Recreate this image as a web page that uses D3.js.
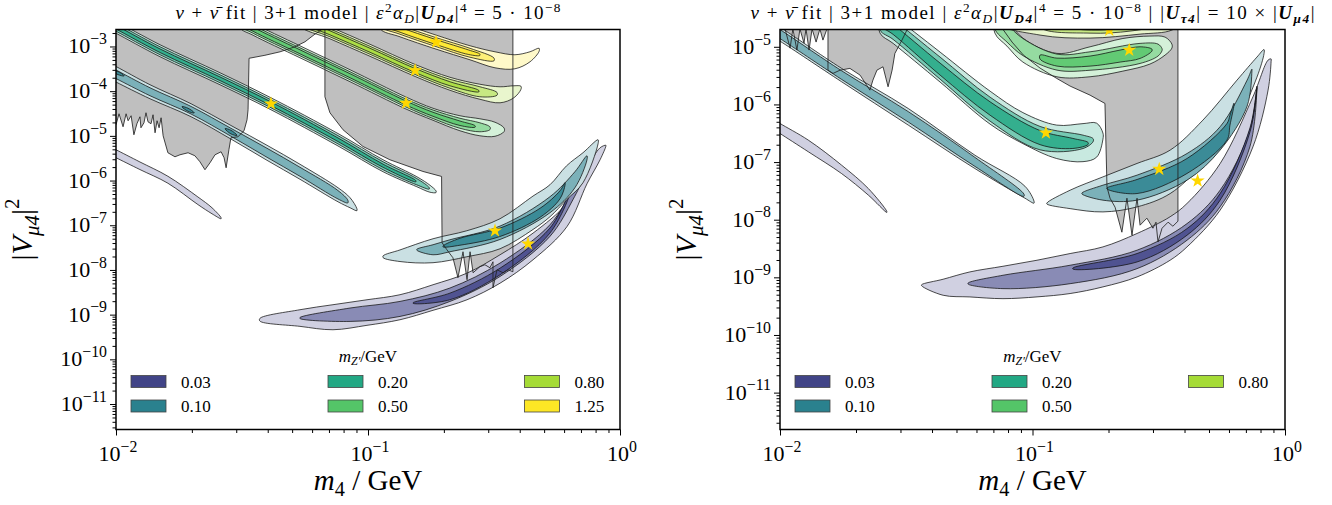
<!DOCTYPE html>
<html>
<head>
<meta charset="utf-8">
<script src="https://cdn.jsdelivr.net/npm/d3@7"></script>
<style>
  body { margin: 0; background: #fff; }
  svg { display: block; }
  text { font-family: "Liberation Serif", "DejaVu Serif", serif; fill: #000; }
</style>
</head>
<body>
<svg id="chart" width="1332" height="505"></svg>
<script>
// ---------------------------------------------------------------------------
// Data. Contour bands are stored as ridge lines: [log10 m4, log10 |V|^2, half-width in decades].
// Excluded regions are outlines in [log10 m4, log10 |V|^2].
// ---------------------------------------------------------------------------
const massLabels = ["0.03", "0.10", "0.20", "0.50", "0.80", "1.25"];
const massColors = ["#414487", "#2a818e", "#22a884", "#54c568", "#a5db36", "#fde725"];
const levelStrength = [0.25, 0.62, 0.92];           // outer, middle, inner contour fill
const xTickExp = [-2, -1, 0];
const yTickExpLeft = [-11, -10, -9, -8, -7, -6, -5, -4, -3];
const yTickExpRight = [-11, -10, -9, -8, -7, -6, -5];

// ---- left panel ----
const L003a = [[-2.024,-5.333,0.089],[-2.000,-5.400,0.089],[-1.905,-5.669,0.085],[-1.794,-5.982,0.078],[-1.675,-6.452,0.085],[-1.619,-6.676,0.067],[-1.583,-6.843,0.011]];
const L003out = [[-1.429,-9.114,0.03],[-1.270,-9.076,0.186],[-1.139,-9.058,0.280],[-1.004,-8.953,0.286],[-0.873,-8.834,0.280],[-0.742,-8.617,0.286],[-0.607,-8.369,0.298],[-0.476,-7.978,0.318],[-0.345,-7.474,0.298],[-0.210,-6.765,0.262],[-0.131,-5.893,0.179],[-0.079,-5.400,0.134],[-0.056,-5.221,0.011]];
const L003mid = [[-1.270,-9.076,0.01],[-1.071,-9.002,0.150],[-0.873,-8.872,0.168],[-0.675,-8.555,0.150],[-0.476,-7.996,0.150],[-0.278,-7.119,0.130],[-0.187,-6.318,0.112],[-0.147,-5.937,0.02]];
const L003in = [[-0.821,-8.740,0.007],[-0.675,-8.593,0.074],[-0.476,-8.034,0.074],[-0.278,-7.119,0.056],[-0.200,-6.300,0.015]];

const L010aOut = [[-2.044,-3.499,0.174],[-2.000,-3.622,0.174],[-1.865,-4.013,0.157],[-1.702,-4.427,0.145],[-1.544,-4.919,0.152],[-1.401,-5.378,0.168],[-1.270,-5.803,0.168],[-1.119,-6.318,0.157],[-1.071,-6.497,0.112],[-1.044,-6.653,0.022]];
const L010aMid = [[-2.044,-3.499,0.096],[-2.000,-3.622,0.096],[-1.865,-4.013,0.089],[-1.702,-4.427,0.085],[-1.544,-4.919,0.089],[-1.401,-5.378,0.101],[-1.270,-5.803,0.101],[-1.119,-6.318,0.094],[-1.080,-6.470,0.030]];
const L010aIn1 = [[-2.016,-3.544,0.005],[-1.992,-3.595,0.034],[-1.968,-3.655,0.005]];
const L010aIn2 = [[-1.738,-4.349,0.005],[-1.714,-4.416,0.034],[-1.690,-4.483,0.005]];
const L010aIn3 = [[-1.567,-4.841,0.005],[-1.544,-4.915,0.040],[-1.520,-4.987,0.005]];
const L010out = [[-0.940,-7.705,0.02],[-0.873,-7.682,0.130],[-0.742,-7.570,0.268],[-0.608,-7.414,0.291],[-0.476,-7.190,0.336],[-0.345,-6.720,0.374],[-0.278,-6.452,0.358],[-0.212,-6.049,0.380],[-0.147,-5.714,0.336],[-0.087,-5.132,0.045]];
const L010mid = [[-0.806,-7.548,0.011],[-0.742,-7.548,0.112],[-0.675,-7.459,0.134],[-0.476,-7.168,0.150],[-0.278,-6.541,0.179],[-0.179,-5.982,0.179],[-0.131,-5.490,0.045]];
const L010in = [[-0.702,-7.474,0.011],[-0.635,-7.369,0.078],[-0.476,-7.157,0.094],[-0.317,-6.720,0.101],[-0.238,-6.318,0.089],[-0.218,-6.072,0.025]];

const L020out = [[-2.044,-2.447,0.134],[-2.000,-2.570,0.134],[-1.825,-3.096,0.134],[-1.587,-3.723,0.134],[-1.385,-4.282,0.134],[-1.119,-5.087,0.139],[-0.940,-5.669,0.134],[-0.806,-6.027,0.112],[-0.754,-6.183,0.078],[-0.730,-6.250,0.018]];
const L020mid = [[-2.044,-2.447,0.089],[-2.000,-2.570,0.089],[-1.825,-3.096,0.089],[-1.587,-3.723,0.089],[-1.385,-4.282,0.089],[-1.119,-5.087,0.092],[-0.940,-5.669,0.089],[-0.806,-6.027,0.07],[-0.757,-6.175,0.015]];
const L020in = [[-2.044,-2.447,0.040],[-2.000,-2.570,0.040],[-1.825,-3.096,0.040],[-1.587,-3.723,0.040],[-1.385,-4.282,0.042],[-1.119,-5.087,0.040],[-0.940,-5.669,0.035],[-0.810,-6.015,0.012]];

const L050out = [[-1.508,-2.447,0.134],[-1.456,-2.615,0.134],[-1.270,-3.119,0.134],[-1.071,-3.655,0.134],[-0.849,-4.266,0.134],[-0.742,-4.517,0.134],[-0.635,-4.718,0.168],[-0.556,-4.808,0.190],[-0.496,-4.852,0.157],[-0.460,-4.864,0.040]];
const L050mid = [[-1.508,-2.447,0.089],[-1.456,-2.615,0.089],[-1.270,-3.119,0.089],[-1.071,-3.655,0.089],[-0.849,-4.266,0.089],[-0.742,-4.517,0.095],[-0.635,-4.718,0.112],[-0.556,-4.808,0.100],[-0.516,-4.830,0.03]];
const L050in = [[-1.508,-2.447,0.045],[-1.456,-2.615,0.045],[-1.270,-3.119,0.045],[-1.071,-3.655,0.045],[-0.849,-4.266,0.045],[-0.742,-4.517,0.045],[-0.635,-4.718,0.05],[-0.575,-4.790,0.015]];

const L080out = [[-1.270,-2.403,0.134],[-1.151,-2.694,0.134],[-0.992,-3.085,0.134],[-0.813,-3.537,0.134],[-0.675,-3.834,0.145],[-0.556,-4.013,0.168],[-0.476,-4.081,0.179],[-0.421,-4.013,0.134],[-0.393,-3.924,0.034]];
const L080mid = [[-1.270,-2.403,0.089],[-1.151,-2.694,0.089],[-0.992,-3.085,0.089],[-0.813,-3.537,0.089],[-0.675,-3.834,0.100],[-0.556,-4.013,0.112],[-0.488,-4.060,0.03]];
const L080in = [[-1.270,-2.403,0.045],[-1.151,-2.694,0.045],[-0.992,-3.085,0.045],[-0.813,-3.537,0.045],[-0.675,-3.834,0.045],[-0.560,-4.000,0.015]];

const L125out = [[-0.952,-2.447,0.157],[-0.873,-2.626,0.157],[-0.730,-2.902,0.157],[-0.595,-3.141,0.157],[-0.496,-3.298,0.179],[-0.417,-3.342,0.157],[-0.357,-3.230,0.112],[-0.321,-3.074,0.034]];
const L125mid = [[-0.952,-2.447,0.100],[-0.873,-2.626,0.100],[-0.730,-2.902,0.100],[-0.595,-3.141,0.100],[-0.500,-3.290,0.03]];
const L125in = [[-0.952,-2.447,0.055],[-0.873,-2.626,0.055],[-0.730,-2.902,0.055],[-0.600,-3.130,0.05],[-0.556,-3.186,0.015]];

// best-fit points: [log10 m4, log10 |V|^2, mass index]
const leftBest = [[-0.365,-7.414,0],[-0.496,-7.123,1],[-1.385,-4.282,2],[-0.849,-4.266,3],[-0.813,-3.537,4],[-0.730,-2.902,5]];

const leftExclA = [[-2.05,-2.5],[-1.175,-2.5],[-1.183,-2.62],[-1.214,-2.738],[-1.250,-2.895],[-1.290,-3.007],[-1.349,-3.119],[-1.409,-3.197],[-1.472,-3.264],[-1.476,-4.416],[-1.480,-4.640],[-1.492,-4.886],[-1.516,-5.020],[-1.544,-5.043],[-1.552,-5.311],[-1.563,-5.714],[-1.571,-5.490],[-1.583,-5.356],[-1.607,-5.423],[-1.627,-5.602],[-1.647,-5.758],[-1.667,-5.579],[-1.687,-5.445],[-1.714,-5.378],[-1.746,-5.423],[-1.766,-5.468],[-1.794,-5.378],[-1.813,-4.998],[-1.821,-4.595],[-1.829,-4.819],[-1.837,-4.662],[-1.845,-4.931],[-1.853,-4.528],[-1.861,-4.729],[-1.873,-4.685],[-1.881,-4.483],[-1.889,-4.707],[-1.901,-4.819],[-1.905,-4.573],[-1.917,-4.729],[-1.929,-4.975],[-1.940,-4.550],[-1.952,-4.662],[-1.960,-4.506],[-1.972,-4.796],[-1.988,-4.506],[-2.000,-4.752],[-2.05,-4.75]];
const leftExclB = [[-1.171,-2.5],[-0.425,-2.5],[-0.425,-8.040],[-0.444,-7.996],[-0.464,-8.063],[-0.488,-7.996],[-0.504,-8.398],[-0.504,-7.817],[-0.516,-7.951],[-0.536,-7.884],[-0.556,-7.928],[-0.583,-8.063],[-0.595,-7.593],[-0.607,-8.219],[-0.623,-7.593],[-0.643,-8.174],[-0.663,-7.727],[-0.687,-7.548],[-0.706,-7.391],[-0.708,-5.908],[-0.782,-5.796],[-0.913,-5.535],[-1.020,-5.237],[-1.099,-4.864],[-1.151,-4.483],[-1.171,-4.125]];

// ---- right panel ----
const R003a = [[-2.020,-6.359,0.087],[-2.000,-6.417,0.087],[-1.888,-6.720,0.101],[-1.756,-7.127,0.073],[-1.650,-7.517,0.057],[-1.577,-7.865,0.009]];
const R003out = [[-1.439,-9.137,0.009],[-1.354,-9.172,0.139],[-1.248,-9.123,0.217],[-1.117,-9.089,0.281],[-0.982,-9.021,0.318],[-0.851,-8.934,0.347],[-0.721,-8.819,0.347],[-0.586,-8.616,0.377],[-0.455,-8.326,0.377],[-0.388,-8.095,0.377],[-0.257,-7.431,0.404],[-0.127,-6.302,0.434],[-0.067,-5.491,0.260],[-0.055,-5.231,0.02]];
const R003mid = [[-1.255,-9.108,0.009],[-1.117,-9.080,0.116],[-0.851,-8.950,0.160],[-0.586,-8.689,0.160],[-0.388,-8.212,0.144],[-0.257,-7.632,0.144],[-0.139,-6.590,0.144],[-0.111,-5.700,0.017]];
const R003in = [[-0.840,-8.847,0.009],[-0.586,-8.660,0.073],[-0.388,-8.212,0.057],[-0.257,-7.604,0.057],[-0.139,-6.446,0.035],[-0.111,-5.717,0.009]];

const R010aOut = [[-2.040,-4.675,0.122],[-2.000,-4.780,0.122],[-1.756,-5.491,0.116],[-1.492,-6.215,0.144],[-1.228,-6.997,0.116],[-1.030,-7.523,0.104],[-0.994,-7.696,0.017]];
const R010aMid = [[-2.040,-4.675,0.078],[-2.000,-4.780,0.078],[-1.756,-5.491,0.075],[-1.492,-6.215,0.090],[-1.228,-6.997,0.078],[-1.034,-7.575,0.02]];
const R010out = [[-0.943,-7.719,0.009],[-0.851,-7.648,0.160],[-0.721,-7.561,0.304],[-0.586,-7.401,0.377],[-0.455,-7.170,0.377],[-0.325,-6.649,0.377],[-0.190,-5.925,0.347],[-0.111,-5.352,0.174],[-0.083,-5.083,0.035]];
const R010mid = [[-0.804,-7.545,0.009],[-0.721,-7.531,0.130],[-0.586,-7.444,0.217],[-0.388,-7.083,0.231],[-0.257,-6.590,0.203],[-0.150,-5.804,0.226],[-0.131,-5.405,0.017]];
const R010in = [[-0.705,-7.458,0.009],[-0.586,-7.424,0.122],[-0.388,-7.068,0.130],[-0.230,-6.476,0.144],[-0.218,-6.273,0.087],[-0.202,-5.995,0.017]];

const R020out = [[-1.604,-4.519,0.243],[-1.552,-4.698,0.243],[-1.366,-5.352,0.260],[-1.168,-6.056,0.286],[-1.038,-6.411,0.269],[-0.904,-6.649,0.290],[-0.800,-6.663,0.330],[-0.746,-6.620,0.295],[-0.721,-6.550,0.052]];
const R020mid = [[-1.604,-4.536,0.174],[-1.552,-4.698,0.174],[-1.366,-5.370,0.191],[-1.168,-6.082,0.208],[-0.970,-6.585,0.203],[-0.800,-6.649,0.116],[-0.760,-6.620,0.026]];
const R020in = [[-1.604,-4.536,0.087],[-1.552,-4.698,0.087],[-1.366,-5.387,0.104],[-1.168,-6.071,0.116],[-0.970,-6.576,0.122],[-0.840,-6.677,0.087],[-0.780,-6.677,0.017]];

const R050out = [[-1.149,-4.536,0.226],[-1.101,-4.762,0.226],[-1.038,-5.057,0.208],[-0.903,-5.318,0.203],[-0.772,-5.260,0.260],[-0.642,-5.139,0.283],[-0.535,-5.057,0.243],[-0.475,-4.988,0.156],[-0.448,-4.988,0.035]];
const R050mid = [[-1.149,-4.536,0.156],[-1.101,-4.762,0.156],[-1.038,-5.005,0.148],[-0.903,-5.266,0.139],[-0.772,-5.247,0.160],[-0.574,-5.115,0.174],[-0.503,-5.057,0.104],[-0.487,-5.049,0.017]];
const R050in = [[-0.970,-5.179,0.035],[-0.903,-5.266,0.069],[-0.772,-5.248,0.087],[-0.653,-5.161,0.104],[-0.574,-5.101,0.101],[-0.527,-5.057,0.017]];

const R080out = [[-1.168,-4.328,0.208],[-0.970,-4.554,0.243],[-0.772,-4.606,0.243],[-0.574,-4.554,0.226],[-0.448,-4.484,0.226],[-0.396,-4.450,0.069]];
const R080mid = [[-0.970,-4.502,0.156],[-0.772,-4.589,0.174],[-0.614,-4.554,0.174],[-0.495,-4.484,0.139],[-0.455,-4.467,0.035]];
const R080in = [[-0.851,-4.536,0.104],[-0.733,-4.571,0.139],[-0.614,-4.519,0.122],[-0.535,-4.467,0.035]];

const rightBest = [[-0.346,-7.326,0],[-0.498,-7.123,1],[-0.947,-6.493,2],[-0.617,-5.057,3],[-0.696,-4.710,4]];

const rightExclA = [[-2.03,-4.6],[-1.980,-4.6],[-1.980,-4.69],[-1.960,-5.023],[-1.949,-4.69],[-1.933,-5.057],[-1.921,-4.69],[-1.905,-4.936],[-1.897,-4.69],[-1.885,-5.057],[-1.873,-4.69],[-1.857,-4.918],[-1.842,-4.69],[-1.830,-4.884],[-1.814,-4.69],[-1.810,-4.69],[-1.810,-5.405],[-1.790,-5.462],[-1.762,-5.405],[-1.723,-5.375],[-1.683,-5.491],[-1.644,-5.752],[-1.632,-5.578],[-1.616,-5.405],[-1.592,-5.347],[-1.572,-5.694],[-1.556,-5.405],[-1.545,-5.115],[-1.517,-4.884],[-1.485,-4.6]];
const rightExclB = [[-1.117,-4.6],[-0.424,-4.6],[-0.424,-8.026],[-0.444,-8.113],[-0.463,-8.043],[-0.487,-8.148],[-0.503,-8.385],[-0.511,-8.043],[-0.523,-8.148],[-0.547,-7.974],[-0.574,-8.095],[-0.586,-7.627],[-0.606,-8.269],[-0.626,-7.627],[-0.646,-8.217],[-0.673,-7.783],[-0.693,-7.627],[-0.705,-7.436],[-0.713,-5.983],[-0.772,-5.839],[-0.851,-5.682],[-0.904,-5.549],[-0.970,-5.370],[-1.036,-5.144],[-1.081,-4.918],[-1.117,-4.698]];

// contour layers, drawn in this order: [mass index, level, ridge]
const leftContours = [
  [0,0,L003a],[0,0,L003out],[0,1,L003mid],[0,2,L003in],
  [1,0,L010aOut],[1,1,L010aMid],[1,2,L010aIn1],[1,2,L010aIn2],[1,2,L010aIn3],
  [1,0,L010out],[1,1,L010mid],[1,2,L010in],
  [2,0,L020out],[2,1,L020mid],[2,2,L020in],
  [3,0,L050out],[3,1,L050mid],[3,2,L050in],
  [4,0,L080out],[4,1,L080mid],[4,2,L080in],
  [5,0,L125out],[5,1,L125mid],[5,2,L125in]
];
const rightContours = [
  [0,0,R003a],[0,0,R003out],[0,1,R003mid],[0,2,R003in],
  [1,0,R010aOut],[1,1,R010aMid],
  [1,0,R010out],[1,1,R010mid],[1,2,R010in],
  [2,0,R020out],[2,1,R020mid],[2,2,R020in],
  [3,0,R050out],[3,1,R050mid],[3,2,R050in],
  [4,0,R080out],[4,1,R080mid],[4,2,R080in]
];

// ---------------------------------------------------------------------------
// Layout
// ---------------------------------------------------------------------------
const plotTop = 29.5, plotBottom = 429.5;
const panels = [
  { id: "L", left: 116, right: 620, yExp: [-11.57, -2.62], yTicks: yTickExpLeft,
    contours: leftContours, excl: [leftExclA, leftExclB], best: leftBest, legendN: 6,
    titleWidth: 385 },
  { id: "R", left: 780, right: 1285, yExp: [-11.64, -4.70], yTicks: yTickExpRight,
    contours: rightContours, excl: [rightExclA, rightExclB], best: rightBest, legendN: 5,
    titleWidth: 564 }
];

const svg = d3.select("#chart");

function tint(hex, a) {
  const c = d3.rgb(hex);
  return d3.rgb(255 - (255 - c.r) * a, 255 - (255 - c.g) * a, 255 - (255 - c.b) * a).formatHex();
}

// text made of runs with optional italic/bold and super/subscript shifts
function richText(parent, x, y, size, parts, anchor) {
  const t = parent.append("text").attr("x", x).attr("y", y)
    .attr("font-size", size).attr("text-anchor", anchor || "middle");
  let cur = 0;
  parts.forEach(p => {
    const shift = (p.sh || 0) * size;
    const ts = t.append("tspan").text(p.t);
    const dy = cur - shift;
    if (Math.abs(dy) > 1e-6) ts.attr("dy", dy);
    cur = shift;
    if (p.sc) ts.attr("font-size", size * p.sc);
    if (p.it) ts.attr("font-style", "italic");
    if (p.bf) ts.attr("font-weight", "bold");
  });
  return t;
}
const SUP = 0.38, SUB = -0.2, SM = 0.7;

const titleLeft = [
  {t:"ν", it:1}, {t:" + "}, {t:"ν\u0304", it:1}, {t:" fit | 3+1 model | "},
  {t:"ε", it:1}, {t:"2", sh:SUP, sc:SM}, {t:"α", it:1}, {t:"D", it:1, sh:SUB, sc:SM},
  {t:"|"}, {t:"U", it:1, bf:1}, {t:"D4", it:1, bf:1, sh:SUB, sc:SM}, {t:"|"}, {t:"4", sh:SUP, sc:SM},
  {t:" = 5 · 10"}, {t:"−8", sh:SUP, sc:SM}
];
const titleRight = titleLeft.concat([
  {t:"  |  |"}, {t:"U", it:1, bf:1}, {t:"τ4", it:1, bf:1, sh:SUB, sc:SM},
  {t:"| = 10 × |"}, {t:"U", it:1, bf:1}, {t:"μ4", it:1, bf:1, sh:SUB, sc:SM}, {t:"|"}
]);

panels.forEach((P, pi) => {
  const x = d3.scaleLog().domain([0.01, 1]).range([P.left, P.right]);
  const y = d3.scaleLog().domain([10 ** P.yExp[0], 10 ** P.yExp[1]]).range([plotBottom, plotTop]);
  const px = v => x(10 ** v);
  const py = v => y(10 ** v);

  const clipId = "clip" + P.id;
  svg.append("clipPath").attr("id", clipId).append("rect")
    .attr("x", P.left).attr("y", plotTop)
    .attr("width", P.right - P.left).attr("height", plotBottom - plotTop);

  const g = svg.append("g").attr("clip-path", `url(#${clipId})`);

  const outline = d3.line().x(d => px(d[0])).y(d => py(d[1]));

  // excluded regions (fill)
  g.selectAll(null).data(P.excl).join("path")
    .attr("d", d => outline(d) + "Z")
    .attr("fill", "#bfbfbf").attr("stroke", "none");

  // contour bands
  const smooth = d3.line().curve(d3.curveCatmullRomClosed.alpha(0.5));
  function bandPath(r) {
    const up = r.map(p => [px(p[0]), py(p[1] + p[2])]);
    const lo = r.map(p => [px(p[0]), py(p[1] - p[2])]).reverse();
    return smooth(up.concat(lo));
  }
  g.selectAll(null).data(P.contours).join("path")
    .attr("d", d => bandPath(d[2]))
    .attr("fill", d => tint(massColors[d[0]], levelStrength[d[1]]))
    .attr("stroke", "#111").attr("stroke-width", 0.75).attr("stroke-linejoin", "round");

  // excluded region edges
  g.selectAll(null).data(P.excl).join("path")
    .attr("d", d => outline(d) + "Z")
    .attr("fill", "none").attr("stroke", "#222").attr("stroke-width", 0.85)
    .attr("stroke-linejoin", "round");

  // best-fit stars
  g.selectAll(null).data(P.best).join("path")
    .attr("d", d3.symbol(d3.symbolStar, 62))
    .attr("transform", d => `translate(${px(d[0])},${py(d[1])})`)
    .attr("fill", "#ffd700");

  // axes: ticks
  const ax = svg.append("g");
  const xMinor = [];
  for (let e = -2; e < 0; e++) for (let k = 2; k <= 9; k++) xMinor.push(k * 10 ** e);
  ax.append("g").attr("transform", `translate(0,${plotBottom})`)
    .call(d3.axisBottom(x).tickValues(xTickExp.map(e => 10 ** e)).tickSize(6).tickFormat(""))
    .call(s => s.select(".domain").remove());
  ax.append("g").attr("transform", `translate(0,${plotBottom})`)
    .call(d3.axisBottom(x).tickValues(xMinor).tickSize(3.5).tickFormat(""))
    .call(s => s.select(".domain").remove());
  const yMinor = [];
  for (let e = Math.floor(P.yExp[0]); e < Math.ceil(P.yExp[1]); e++)
    for (let k = 2; k <= 9; k++) {
      const v = k * 10 ** e;
      if (Math.log10(v) >= P.yExp[0] && Math.log10(v) <= P.yExp[1]) yMinor.push(v);
    }
  ax.append("g").attr("transform", `translate(${P.left},0)`)
    .call(d3.axisLeft(y).tickValues(P.yTicks.map(e => 10 ** e)).tickSize(6).tickFormat(""))
    .call(s => s.select(".domain").remove());
  ax.append("g").attr("transform", `translate(${P.left},0)`)
    .call(d3.axisLeft(y).tickValues(yMinor).tickSize(3.5).tickFormat(""))
    .call(s => s.select(".domain").remove());
  ax.selectAll("line").attr("stroke", "#000").attr("stroke-width", 1);

  // frame
  svg.append("rect").attr("x", P.left).attr("y", plotTop)
    .attr("width", P.right - P.left).attr("height", plotBottom - plotTop)
    .attr("fill", "none").attr("stroke", "#000").attr("stroke-width", 1.5);

  // tick labels
  xTickExp.forEach(e => {
    richText(svg, x(10 ** e) + 2, 461, 22, [{t:"10"}, {t:(e < 0 ? "−" : "") + Math.abs(e), sh:0.42, sc:0.72}], "middle");
  });
  P.yTicks.forEach(e => {
    richText(svg, P.left - 9, y(10 ** e) + 7, 22, [{t:"10"}, {t:"−" + Math.abs(e), sh:0.42, sc:0.72}], "end");
  });

  // axis titles
  const cx = (P.left + P.right) / 2;
  richText(svg, cx, 490, 29, [{t:"m", it:1}, {t:"4", sh:-0.2, sc:SM}, {t:" / GeV"}], "middle");
  const yl = richText(svg, 0, 0, 30,
    [{t:"|"}, {t:"V", it:1}, {t:"μ4", it:1, sh:-0.22, sc:SM}, {t:"|"}, {t:"2", sh:0.42, sc:SM}], "middle");
  yl.attr("transform", `translate(${P.left - 84},${(plotTop + plotBottom) / 2}) rotate(-90)`);

  // panel title
  richText(svg, cx, 19, 19, pi === 0 ? titleLeft : titleRight, "middle")
    .attr("textLength", P.titleWidth).attr("lengthAdjust", "spacing");

  // legend
  const lg = svg.append("g");
  richText(lg, cx, 362, 17, [{t:"m", it:1}, {t:"Z′", it:1, sh:-0.2, sc:SM}, {t:"/GeV"}], "middle");
  const colX = [15, 212, 408.5], rowY = [381.5, 406];
  massLabels.slice(0, P.legendN).forEach((lab, i) => {
    const c = Math.floor(i / 2), r = i % 2;
    const bx = P.left + colX[c], by = rowY[r];
    lg.append("rect").attr("x", bx).attr("y", by - 6).attr("width", 35).attr("height", 12)
      .attr("fill", massColors[i]).attr("stroke", "#444").attr("stroke-width", 0.8);
    lg.append("text").attr("x", bx + 50).attr("y", by + 6).attr("font-size", 17).text(lab);
  });
});
</script>
</body>
</html>
